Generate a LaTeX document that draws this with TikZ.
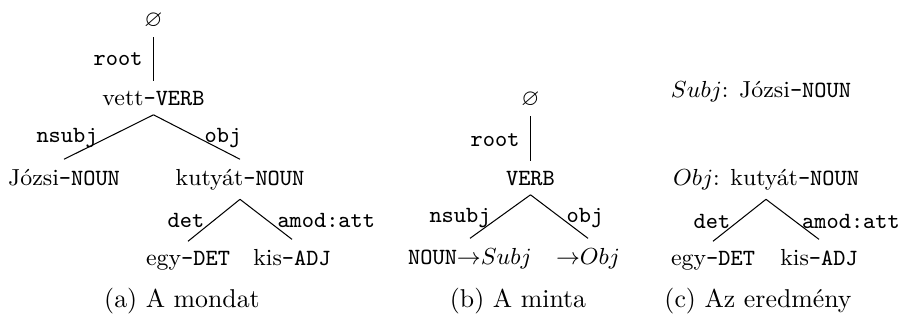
\documentclass[tikz,border=0pt]{standalone}
\usepackage{amssymb}
\begin{document}
\begin{tikzpicture}[x=0.3876pt,y=-0.3876pt,
  wd/.style={font=\small, anchor=base, inner xsep=0pt, inner ysep=3.5pt},
  rel/.style={font=\small\ttfamily, anchor=base, inner sep=0pt},
  captxt/.style={font=\normalsize, anchor=base, inner sep=0pt},
  conn/.style={draw=black, line width=0.4pt}]
\useasboundingbox (0,0) rectangle (901,321);
% (a)
\node[wd] (a0) at (153.5,26) {$\varnothing$};
\node[wd] (a1) at (153.5,105) {vett\texttt{-VERB}};
\node[wd] (a2) at (64,185) {Józsi\texttt{-NOUN}};
\node[wd] (a3) at (240,185) {kutyát\texttt{-NOUN}};
\node[wd] (a4) at (188,265) {egy\texttt{-DET}};
\node[wd] (a5) at (292,265) {kis\texttt{-ADJ}};
\draw[conn] (a0.south) -- (a1.north);
\draw[conn] (a1.south) -- (a2.north);
\draw[conn] (a1.south) -- (a3.north);
\draw[conn] (a3.south) -- (a4.north);
\draw[conn] (a3.south) -- (a5.north);
\node[rel, anchor=base east] (ar) at (143,65) {root};
\node[rel] (an) at (67,142) {nsubj};
\node[rel] (ao) at (223,142) {obj};
\node[rel] (ad) at (186,227) {det};
\node[rel, anchor=base west] (am) at (277,227) {amod:att};
\node[captxt] (ca) at (182,307) {(a) A mondat};
% (b)
\node[wd] (b0) at (530.5,105) {$\varnothing$};
\node[wd] (b1) at (530.5,185) {\texttt{VERB}};
\node[wd] (b2) at (470,264) {\texttt{NOUN}$\mathord{\rightarrow}Subj$};
\node[wd] (b3) at (588,264) {$\mathord{\rightarrow}Obj$};
\draw[conn] (b0.south) -- (b1.north);
\draw[conn] (b1.south) -- (b2.north);
\draw[conn] (b1.south) -- (b3.north);
\node[rel, anchor=base east] (br) at (520,146) {root};
\node[rel] (bn) at (460,222) {nsubj};
\node[rel] (bo) at (585,222) {obj};
\node[captxt] (cb) at (518,307) {(b) A minta};
% (c)
\node[wd] (c0) at (761,97) {$Subj$: Józsi\texttt{-NOUN}};
\node[wd] (c1) at (766,185) {$Obj$: kutyát\texttt{-NOUN}};
\node[wd] (c2) at (713,265) {egy\texttt{-DET}};
\node[wd] (c3) at (819,265) {kis\texttt{-ADJ}};
\draw[conn] (c1.south) -- (c2.north);
\draw[conn] (c1.south) -- (c3.north);
\node[rel] (cd) at (712,228) {det};
\node[rel] (cm) at (851,228) {amod:att};
\node[captxt] (cc) at (758,307) {(c) Az eredmény};
\end{tikzpicture}
\end{document}
